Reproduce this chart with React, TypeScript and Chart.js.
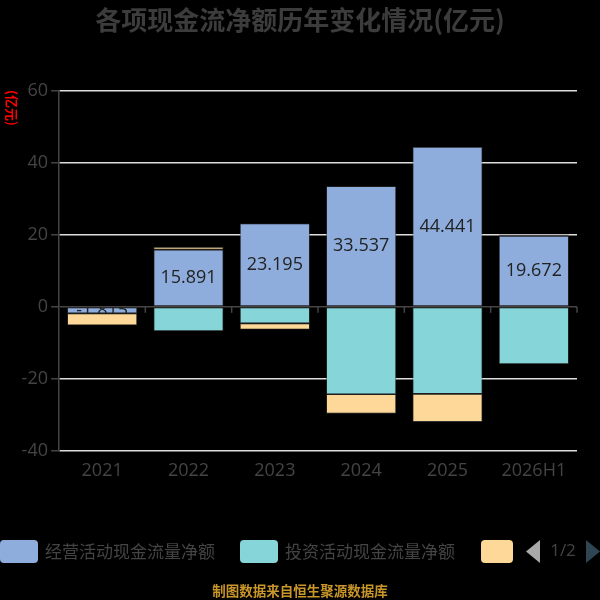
import React, { useEffect, useRef } from "react";
import { Chart, registerables } from "chart.js";

Chart.register(...registerables);

const categories = ["2021", "2022", "2023", "2024", "2025", "2026H1"];
const operating = [-1.815, 15.891, 23.195, 33.537, 44.441, 19.672];
const investing = [0, -6.75, -4.6, -24.3, -24.2, -15.9];
const financing = [-3.3, 0.75, -1.7, -5.4, -7.8, 0.4];
const seriesNames = ["经营活动现金流量净额", "投资活动现金流量净额", "筹资活动现金流量净额"];
const seriesColors = ["#8eaddc", "#86d6d9", "#fed898"];
const titleText = "各项现金流净额历年变化情况(亿元)";
const unitText = "(亿元)";
const footerText = "制图数据来自恒生聚源数据库";
const pageText = "1/2";

const FONT = "'Open Sans', 'Noto Sans CJK SC', sans-serif";
const CJK = "'Noto Sans CJK SC', 'Open Sans', sans-serif";

function roundRect(ctx: CanvasRenderingContext2D, x: number, y: number, w: number, h: number, r: number) {
  ctx.beginPath();
  ctx.moveTo(x + r, y);
  ctx.lineTo(x + w - r, y);
  ctx.quadraticCurveTo(x + w, y, x + w, y + r);
  ctx.lineTo(x + w, y + h - r);
  ctx.quadraticCurveTo(x + w, y + h, x + w - r, y + h);
  ctx.lineTo(x + r, y + h);
  ctx.quadraticCurveTo(x, y + h, x, y + h - r);
  ctx.lineTo(x, y + r);
  ctx.quadraticCurveTo(x, y, x + r, y);
  ctx.closePath();
}

const decorPlugin = {
  id: "decor",
  beforeDatasetsDraw(chart: any) {
    const ctx = chart.ctx as CanvasRenderingContext2D;
    const y = chart.scales.y;
    const area = chart.chartArea;
    const zeroY = y.getPixelForValue(0);
    ctx.save();
    ctx.strokeStyle = "#444";
    ctx.lineWidth = 1.5;
    const n = categories.length;
    for (let i = 1; i <= n; i++) {
      const x = area.left + (i * (area.right - area.left)) / n;
      ctx.beginPath();
      ctx.moveTo(x, zeroY);
      ctx.lineTo(x, zeroY + 6);
      ctx.stroke();
    }
    ctx.restore();
  },
  afterDatasetsDraw(chart: any) {
    const ctx = chart.ctx as CanvasRenderingContext2D;
    const meta = chart.getDatasetMeta(0);
    ctx.save();
    meta.data.forEach((bar: any, i: number) => {
      const p = bar.getProps(["x", "y", "base", "width"], true);
      const top = Math.min(p.y, p.base);
      const h = Math.abs(p.base - p.y);
      ctx.save();
      ctx.beginPath();
      ctx.rect(p.x - p.width / 2, top, p.width, h);
      ctx.clip();
      ctx.fillStyle = "#222";
      ctx.font = `18px ${FONT}`;
      ctx.textAlign = "center";
      ctx.textBaseline = "middle";
      ctx.fillText(String(operating[i]), p.x, top + h / 2);
      ctx.restore();
    });
    ctx.restore();
  },
  afterDraw(chart: any) {
    const ctx = chart.ctx as CanvasRenderingContext2D;
    ctx.save();
    // title
    ctx.fillStyle = "#3c3c3c";
    ctx.font = `bold 26px ${CJK}`;
    ctx.textAlign = "center";
    ctx.textBaseline = "middle";
    ctx.fillText(titleText, 300, 20);
    // unit label
    ctx.save();
    ctx.translate(12, 108);
    ctx.rotate(Math.PI / 2);
    ctx.fillStyle = "#ff0000";
    ctx.font = `bold 13px ${CJK}`;
    ctx.fillText(unitText, 0, 0);
    ctx.restore();
    // legend
    const ly = 540;
    const lh = 23;
    const cy = ly + lh / 2;
    const boxes = [
      { x: 0, w: 38 },
      { x: 240, w: 38 },
      { x: 481, w: 32 },
    ];
    boxes.forEach((b, i) => {
      ctx.fillStyle = seriesColors[i];
      roundRect(ctx, b.x, ly, b.w, lh, 4);
      ctx.fill();
    });
    ctx.fillStyle = "#444";
    ctx.font = `17px ${CJK}`;
    ctx.textAlign = "left";
    ctx.fillText(seriesNames[0], 45, cy);
    ctx.fillText(seriesNames[1], 285, cy);
    // pager
    ctx.fillStyle = "#aaaaaa";
    ctx.beginPath();
    ctx.moveTo(540, ly);
    ctx.lineTo(526, cy);
    ctx.lineTo(540, ly + lh);
    ctx.closePath();
    ctx.fill();
    ctx.fillStyle = "#444";
    ctx.font = `17px ${FONT}`;
    ctx.textAlign = "center";
    ctx.fillText(pageText, 563, cy);
    ctx.fillStyle = "#2f4554";
    ctx.beginPath();
    ctx.moveTo(586, ly);
    ctx.lineTo(600, cy);
    ctx.lineTo(586, ly + lh);
    ctx.closePath();
    ctx.fill();
    // footer
    ctx.fillStyle = "#c9962a";
    ctx.font = `bold 13.5px ${CJK}`;
    ctx.textAlign = "center";
    ctx.fillText(footerText, 300, 591);
    ctx.restore();
  },
};

export default function App() {
  const ref = useRef<HTMLCanvasElement | null>(null);
  useEffect(() => {
    document.body.style.margin = "0";
    document.body.style.background = "#000";
    const canvas = ref.current!;
    const mk = (data: number[], i: number) => ({
      label: seriesNames[i],
      data,
      backgroundColor: seriesColors[i],
      borderColor: "rgba(60,60,60,0.8)",
      borderWidth: 0.8,
      borderSkipped: false,
      barPercentage: 0.81,
      categoryPercentage: 1,
    });
    const chart = new Chart(canvas, {
      type: "bar",
      data: {
        labels: categories,
        datasets: [mk(operating, 0), mk(investing, 1), mk(financing, 2)],
      },
      options: {
        animation: false,
        responsive: false,
        maintainAspectRatio: false,
        layout: { padding: { top: 91, left: 0, right: 23, bottom: 0 } },
        plugins: {
          legend: { display: false },
          title: { display: false },
          tooltip: { enabled: false },
        },
        scales: {
          x: {
            stacked: true,
            grid: { display: false },
            border: { display: false },
            ticks: {
              color: "#444",
              font: { size: 18, family: FONT },
              padding: 1,
            },
            afterFit: (s: any) => {
              s.height = 149.3;
            },
          },
          y: {
            stacked: true,
            min: -40,
            max: 60,
            ticks: {
              stepSize: 20,
              color: "#444",
              font: { size: 18, family: FONT },
              padding: 3,
            },
            grid: {
              color: (c: any) => (c.tick && c.tick.value === 0 ? "#444" : "#dddddd"),
              lineWidth: 1.5,
              tickColor: "#444",
              tickLength: 8,
            },
            border: { display: true, color: "#444", width: 1.5 },
            afterFit: (s: any) => {
              s.width = 59;
            },
          },
        },
      },
      plugins: [decorPlugin],
    } as any);
    return () => chart.destroy();
  }, []);
  return (
    <div style={{ width: 600, height: 600, background: "#000", position: "relative" }}>
      <canvas ref={ref} width={600} height={600} style={{ width: 600, height: 600, display: "block" }} />
    </div>
  );
}
